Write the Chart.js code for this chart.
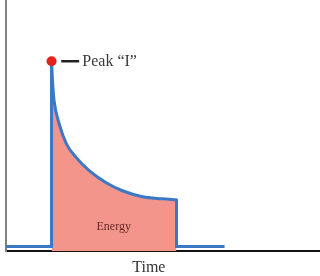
<!DOCTYPE html>
<html>
<head>
<meta charset="utf-8">
<script src="https://cdn.jsdelivr.net/npm/chart.js@4/dist/chart.umd.min.js"></script>
<style>
  html, body { margin: 0; padding: 0; background: #fff; }
  canvas { display: block; }
</style>
</head>
<body>
<canvas id="pulseChart" width="320" height="276"></canvas>
<script>
// decay curve of the pulse (time, current), 0-100 on both axes
const curveTime    = [14.5, 14.9, 15.3, 16.9, 19.2, 22.4, 26.5, 31.9, 37.1, 43.5, 49.8, 54.3];
const curveCurrent = [75.6, 66, 60, 50.8, 42.8, 37.2, 32, 27.2, 24, 21.6, 20.8, 20.4];

// straight parts of the outline: baseline, rise, drop, baseline (null = break)
const edgeTime    = [0, 14.5, 14.5, 30, 54.3, 54.3, 69.6];
const edgeCurrent = [1.8, 1.8, 75.6, null, 20.4, 1.8, 1.8];

const peakPoint = { time: 14.5, current: 75.6 };
const leaderTime = [17.6, 23.3];

const labels = {
    peak: 'Peak \u201cI\u201d',
    energy: 'Energy',
    axis: 'Time'
};

function toPoints(xs, ys) {
    return xs.map((x, i) => ({ x: x, y: ys[i] }));
}

// draw the text labels on top of the plot
const textPlugin = {
    id: 'textLabels',
    afterDatasetsDraw(chart) {
        const ctx = chart.ctx;
        const x = chart.scales.x, y = chart.scales.y;
        ctx.save();
        ctx.textBaseline = 'middle';

        ctx.font = '16px "Liberation Serif", serif';
        ctx.fillStyle = '#3a3a3a';
        ctx.textAlign = 'left';
        ctx.fillText(labels.peak, x.getPixelForValue(24.3), y.getPixelForValue(peakPoint.current) + 1);

        ctx.font = '12px "Liberation Serif", serif';
        ctx.fillStyle = '#6a2a2a';
        ctx.textAlign = 'center';
        ctx.fillText(labels.energy, x.getPixelForValue(34.3), y.getPixelForValue(9.8));

        ctx.font = '16px "Liberation Serif", serif';
        ctx.fillStyle = '#333';
        ctx.fillText(labels.axis, x.getPixelForValue(45.5), chart.chartArea.bottom + 17);
        ctx.restore();
    }
};

new Chart(document.getElementById('pulseChart'), {
    type: 'line',
    data: {
        datasets: [
            {
                // energy area under the curve
                data: toPoints(curveTime, curveCurrent),
                borderWidth: 0,
                pointRadius: 0,
                backgroundColor: '#f4958b',
                fill: 'origin',
                cubicInterpolationMode: 'monotone',
                order: 4
            },
            {
                data: toPoints(curveTime, curveCurrent),
                borderColor: '#3b78c6',
                borderWidth: 3,
                borderCapStyle: 'round',
                pointRadius: 0,
                fill: false,
                cubicInterpolationMode: 'monotone',
                order: 3
            },
            {
                data: toPoints(edgeTime, edgeCurrent),
                borderColor: '#3b78c6',
                borderWidth: 3,
                borderJoinStyle: 'miter',
                pointRadius: 0,
                fill: false,
                tension: 0,
                spanGaps: false,
                order: 2
            },
            {
                data: toPoints(leaderTime, [peakPoint.current, peakPoint.current]),
                borderColor: '#222',
                borderWidth: 2.5,
                pointRadius: 0,
                fill: false,
                order: 1
            },
            {
                data: [{ x: peakPoint.time, y: peakPoint.current }],
                showLine: false,
                pointRadius: 5,
                pointBackgroundColor: '#e8201b',
                pointBorderWidth: 0,
                order: 0
            }
        ]
    },
    options: {
        responsive: false,
        animation: false,
        layout: { autoPadding: false, padding: { left: 6, right: 0, top: 0, bottom: 25 } },
        plugins: {
            legend: { display: false },
            tooltip: { enabled: false }
        },
        scales: {
            x: {
                type: 'linear',
                min: 0,
                max: 100,
                grid: { display: false, drawTicks: false },
                ticks: { display: false },
                border: { color: '#111', width: 2 }
            },
            y: {
                min: 0,
                max: 100,
                grid: { display: false, drawTicks: false },
                ticks: { display: false },
                border: { color: '#808080', width: 2 }
            }
        }
    },
    plugins: [textPlugin]
});
</script>
</body>
</html>
